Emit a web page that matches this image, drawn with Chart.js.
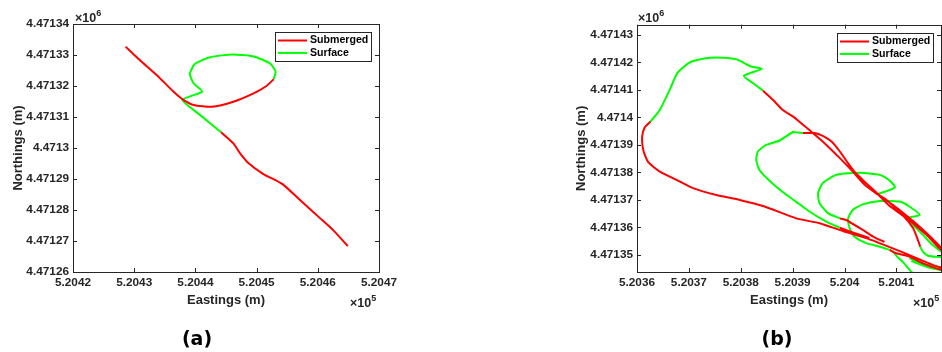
<!DOCTYPE html>
<html>
<head>
<meta charset="utf-8">
<script src="https://cdn.jsdelivr.net/npm/chart.js@4.4.0/dist/chart.umd.min.js"></script>
<style>
  body { margin: 0; background: #fff; }
  #wrap { position: relative; width: 942px; height: 352px; overflow: hidden; }
  canvas { position: absolute; top: 0; }
  .exp { position: absolute; font: bold 12.5px "Liberation Sans", Arial, sans-serif; color: #262626; line-height: 14px; white-space: nowrap; }
  .exp sup { font-size: 9px; vertical-align: 6px; line-height: 0; }
  .cap { position: absolute; width: 60px; text-align: center; font: bold 19px "DejaVu Sans", sans-serif; color: #000; line-height: 22px; }
</style>
</head>
<body>
<div id="wrap">
  <canvas id="chartA" width="471" height="352" style="left:0"></canvas>
  <canvas id="chartB" width="471" height="352" style="left:471px"></canvas>
  <div class="exp" style="left:75px;top:11px">&times;10<sup>6</sup></div>
  <div class="exp" style="left:350px;top:296px">&times;10<sup>5</sup></div>
  <div class="exp" style="left:638px;top:11px">&times;10<sup>6</sup></div>
  <div class="exp" style="left:913px;top:296px">&times;10<sup>5</sup></div>
  <div class="cap" style="left:167px;top:327px">(a)</div>
  <div class="cap" style="left:747px;top:327px">(b)</div>
</div>
<script>
// ---- (a) track ----
const aSubEast = [520428.6, 520430.9, 520433.7, 520436.4, 520437.9, 520439.7, 520442.7, 520446.2, 520449.5, 520451.6, 520452.8, null,
  520444.2, 520446.2, 520447.3, 520448.7, 520451.1, 520453.0, 520454.4, 520457.1, 520460.4, 520462.5, 520464.9];
const aSubNorth = [4471332.7, 4471328.4, 4471323.5, 4471318.2, 4471315.7, 4471313.9, 4471313.3, 4471314.9, 4471317.6, 4471320.0, 4471322.2, null,
  4471305.1, 4471301.5, 4471298.3, 4471295.1, 4471291.6, 4471289.7, 4471288.1, 4471283.2, 4471277.3, 4471273.5, 4471268.4];
const aSurfEast = [520452.8, 520453.1, 520452.2, 520449.5, 520446.2, 520442.4, 520439.9, 520439.1, 520439.7, 520441.1, 520437.9, 520440.8, 520444.2];
const aSurfNorth = [4471322.2, 4471324.6, 4471327.3, 4471329.5, 4471330.2, 4471329.3, 4471327.1, 4471323.9, 4471320.9, 4471318.2, 4471315.5, 4471310.6, 4471305.1];

const aXTicks = [520420, 520430, 520440, 520450, 520460, 520470];
const aXLabels = ['5.2042', '5.2043', '5.2044', '5.2045', '5.2046', '5.2047'];
const aYTicks = [4471260, 4471270, 4471280, 4471290, 4471300, 4471310, 4471320, 4471330, 4471340];
const aYLabels = ['4.47126', '4.47127', '4.47128', '4.47129', '4.4713', '4.47131', '4.47132', '4.47133', '4.47134'];

// ---- (b) track ----
const bSubEast = [
  520362.6, 520361.5, 520361.0, 520361.2, 520362.1, 520364.4, 520367.6, 520370.8, 520375.3, 520379.8, 520384.3, 520390.7, 520395.2, 520399.7, 520404.2, 520409.3, 520413.2, 520417.0, 520420.3, null,
  520384.3, 520386.2, 520388.1, 520390.1, 520392.0, 520393.9, 520396.5, 520399.1, 520401.6, 520403.9, 520406.1, 520408.1, 520410.6, 520413.2, 520415.8, 520418.3, 520420.3, null,
  520392.0, 520394.2, 520395.8, 520397.5, 520399.1, 520400.7, 520401.9, 520403.5, 520405.2, 520406.8, 520409.3, 520411.8, 520414.1, 520416.4, 520418.7, 520420.3, null,
  520399.1, 520401.9, 520404.8, null,
  520406.4, 520408.7, 520411.3, 520413.2, 520414.0, 520414.6, null,
  520399.1, 520400.3, 520403.5, 520405.5, 520407.7, null,
  520408.7, 520410.0, 520412.5, 520414.5, 520417.4, 520420.3];
const bSubNorth = [
  4471398.5, 4471396.4, 4471393.0, 4471388.2, 4471383.9, 4471380.3, 4471377.3, 4471374.3, 4471371.8, 4471370.0, 4471367.8, 4471363.3, 4471361.5, 4471358.7, 4471356.1, 4471352.4, 4471349.4, 4471346.4, 4471344.5, null,
  4471409.7, 4471406.4, 4471402.7, 4471400.3, 4471397.3, 4471394.3, 4471390.0, 4471385.2, 4471380.3, 4471375.5, 4471372.4, 4471370.0, 4471365.7, 4471361.5, 4471357.3, 4471352.4, 4471349.3, null,
  4471394.3, 4471394.3, 4471393.3, 4471391.2, 4471387.6, 4471383.3, 4471380.3, 4471377.3, 4471374.3, 4471371.6, 4471368.2, 4471364.5, 4471360.9, 4471356.9, 4471352.5, 4471350.0, null,
  4471359.9, 4471358.0, 4471356.2, null,
  4471372.1, 4471367.8, 4471364.2, 4471359.8, 4471356.2, 4471353.0, null,
  4471363.3, 4471362.7, 4471359.1, 4471356.7, 4471354.7, null,
  4471351.8, 4471350.6, 4471349.4, 4471347.5, 4471345.3, 4471343.8];
const bSurfEast = [
  520362.6, 520364.4, 520366.3, 520367.8, 520370.2, 520372.7, 520375.3, 520379.2, 520382.0, 520384.0, 520380.6, 520382.4, 520384.3, null,
  520392.0, 520390.1, 520387.2, 520390.1, 520387.5, 520384.9, 520383.3, 520383.0, 520383.6, 520385.6, 520388.1, 520390.7, 520393.3, 520396.5, 520399.1, null,
  520399.1, 520396.8, 520395.2, 520394.9, 520395.8, 520398.4, 520402.9, 520406.8, 520408.5, 520409.7, 520406.4, null,
  520414.6, 520415.1, 520416.1, 520417.7, 520420.3, null,
  520408.7, 520406.8, 520404.2, 520401.9, 520401.0, 520400.7, 520401.6, 520403.5, 520406.8, 520410.6, 520412.5, 520414.5, 520411.9, 520413.2, 520415.1, 520417.0, 520418.7, null,
  520412.5, 520415.4, 520418.7, null,
  520412.9, 520416.0, 520418.7, null,
  520409.3, 520410.2, 520411.4, 520412.9, 520413.5];
const bSurfNorth = [
  4471398.5, 4471402.7, 4471410.0, 4471416.2, 4471420.0, 4471421.3, 4471421.8, 4471421.1, 4471418.5, 4471417.6, 4471415.1, 4471412.4, 4471409.7, null,
  4471394.3, 4471394.6, 4471391.2, 4471394.8, 4471391.6, 4471390.0, 4471387.6, 4471384.5, 4471380.9, 4471376.9, 4471372.9, 4471369.3, 4471365.7, 4471362.1, 4471359.9, null,
  4471363.3, 4471365.2, 4471368.8, 4471372.4, 4471376.1, 4471379.1, 4471379.9, 4471379.1, 4471377.3, 4471374.6, 4471372.1, null,
  4471353.0, 4471351.2, 4471349.7, 4471349.3, 4471349.1, null,
  4471351.8, 4471353.0, 4471354.3, 4471356.7, 4471359.7, 4471363.3, 4471366.4, 4471368.4, 4471369.6, 4471369.4, 4471367.6, 4471364.5, 4471363.3, 4471360.9, 4471357.3, 4471353.6, 4471351.1, null,
  4471348.9, 4471346.7, 4471345.3, null,
  4471347.8, 4471345.6, 4471344.4, null,
  4471351.5, 4471349.3, 4471347.1, 4471343.8, 4471342.4];

const bXTicks = [520360, 520370, 520380, 520390, 520400, 520410];
const bXLabels = ['5.2036', '5.2037', '5.2038', '5.2039', '5.204', '5.2041'];
const bYTicks = [4471350, 4471360, 4471370, 4471380, 4471390, 4471400, 4471410, 4471420, 4471430];
const bYLabels = ['4.47135', '4.47136', '4.47137', '4.47138', '4.47139', '4.4714', '4.47141', '4.47142', '4.47143'];

const RED = '#ff0000';
const GREEN = '#00ff00';
const AXIS = '#262626';
const FONT = '"Liberation Sans", Arial, sans-serif';

function toPoints(east, north) {
    return east.map((x, i) => ({ x: x, y: north[i] }));
}

// matlab style box, inward ticks and legend
const framePlugin = {
    id: 'frame',
    afterDraw(chart) {
        const { ctx, chartArea: a, scales } = chart;
        const tl = 4;
        ctx.save();
        ctx.strokeStyle = AXIS;
        ctx.lineWidth = 1;
        ctx.beginPath();
        scales.x.ticks.forEach(t => {
            const px = Math.round(scales.x.getPixelForValue(t.value)) + 0.5;
            ctx.moveTo(px, a.bottom); ctx.lineTo(px, a.bottom - tl);
            ctx.moveTo(px, a.top); ctx.lineTo(px, a.top + tl);
        });
        scales.y.ticks.forEach(t => {
            const py = Math.round(scales.y.getPixelForValue(t.value)) + 0.5;
            ctx.moveTo(a.left, py); ctx.lineTo(a.left + tl, py);
            ctx.moveTo(a.right, py); ctx.lineTo(a.right - tl, py);
        });
        ctx.stroke();
        ctx.strokeRect(Math.round(a.left) + 0.5, Math.round(a.top) + 0.5,
            Math.round(a.right - a.left), Math.round(a.bottom - a.top));

        // legend
        const w = 96, h = 29;
        const x0 = Math.round(a.right - 8 - w), y0 = Math.round(a.top + 8);
        ctx.fillStyle = '#fff';
        ctx.fillRect(x0, y0, w, h);
        ctx.strokeStyle = AXIS;
        ctx.strokeRect(x0 + 0.5, y0 + 0.5, w, h);
        chart.data.datasets.forEach((d, i) => {
            const y = y0 + 8.5 + i * 12.4;
            ctx.strokeStyle = d.borderColor;
            ctx.lineWidth = 2;
            ctx.beginPath();
            ctx.moveTo(x0 + 3, y);
            ctx.lineTo(x0 + 32, y);
            ctx.stroke();
            ctx.fillStyle = '#000';
            ctx.font = 'bold 10.6px ' + FONT;
            ctx.textBaseline = 'middle';
            ctx.fillText(d.label, x0 + 35, y);
        });
        ctx.restore();
    }
};

function makeChart(id, o) {
    const tickFont = { family: FONT, size: 11.8, weight: 'bold' };
    const titleFont = { family: FONT, size: 13, weight: 'bold', lineHeight: 1 };
    return new Chart(document.getElementById(id), {
        type: 'scatter',
        data: {
            datasets: [
                { label: 'Submerged', data: toPoints(o.subE, o.subN), borderColor: RED },
                { label: 'Surface', data: toPoints(o.surfE, o.surfN), borderColor: GREEN }
            ].map(d => Object.assign(d, {
                showLine: true, borderWidth: 2, pointRadius: 0, tension: 0.2, spanGaps: false
            }))
        },
        options: {
            responsive: false,
            animation: false,
            events: [],
            layout: { padding: o.pad },
            plugins: { legend: { display: false }, tooltip: { enabled: false } },
            scales: {
                x: {
                    type: 'linear',
                    min: o.xMin,
                    max: o.xMax,
                    afterBuildTicks: s => { s.ticks = o.xTicks.map(v => ({ value: v })); },
                    afterFit: s => { s.height = 34.5; },
                    grid: { display: false, drawTicks: false },
                    border: { display: false },
                    ticks: {
                        autoSkip: false, maxRotation: 0, padding: 4, color: AXIS, font: tickFont,
                        callback: (v, i) => o.xLabels[i]
                    },
                    title: { display: true, text: 'Eastings (m)', color: AXIS, font: titleFont, padding: 0 }
                },
                y: {
                    type: 'linear',
                    min: o.yMin,
                    max: o.yMax,
                    afterBuildTicks: s => { s.ticks = o.yTicks.map(v => ({ value: v })); },
                    afterFit: s => { s.width = o.yAxisW; },
                    grid: { display: false, drawTicks: false },
                    border: { display: false },
                    ticks: {
                        autoSkip: false, padding: 4, color: AXIS, font: tickFont,
                        callback: (v, i) => o.yLabels[i]
                    },
                    title: { display: true, text: 'Northings (m)', color: AXIS, font: titleFont, padding: 0 }
                }
            }
        },
        plugins: [framePlugin]
    });
}

makeChart('chartA', {
    subE: aSubEast, subN: aSubNorth, surfE: aSurfEast, surfN: aSurfNorth,
    xMin: 520420, xMax: 520470, yMin: 4471260, yMax: 4471340,
    xTicks: aXTicks, xLabels: aXLabels, yTicks: aYTicks, yLabels: aYLabels,
    pad: { left: 11.5, right: 92, top: 24, bottom: 45.5 }, yAxisW: 61.5
});

makeChart('chartB', {
    subE: bSubEast, subN: bSubNorth, surfE: bSurfEast, surfN: bSurfNorth,
    xMin: 520360, xMax: 520418.6, yMin: 4471343.8, yMax: 4471433.7,
    xTicks: bXTicks, xLabels: bXLabels, yTicks: bYTicks, yLabels: bYLabels,
    pad: { left: 103.5, right: 1, top: 24.7, bottom: 45.5 }, yAxisW: 62.5
});
</script>
</body>
</html>
